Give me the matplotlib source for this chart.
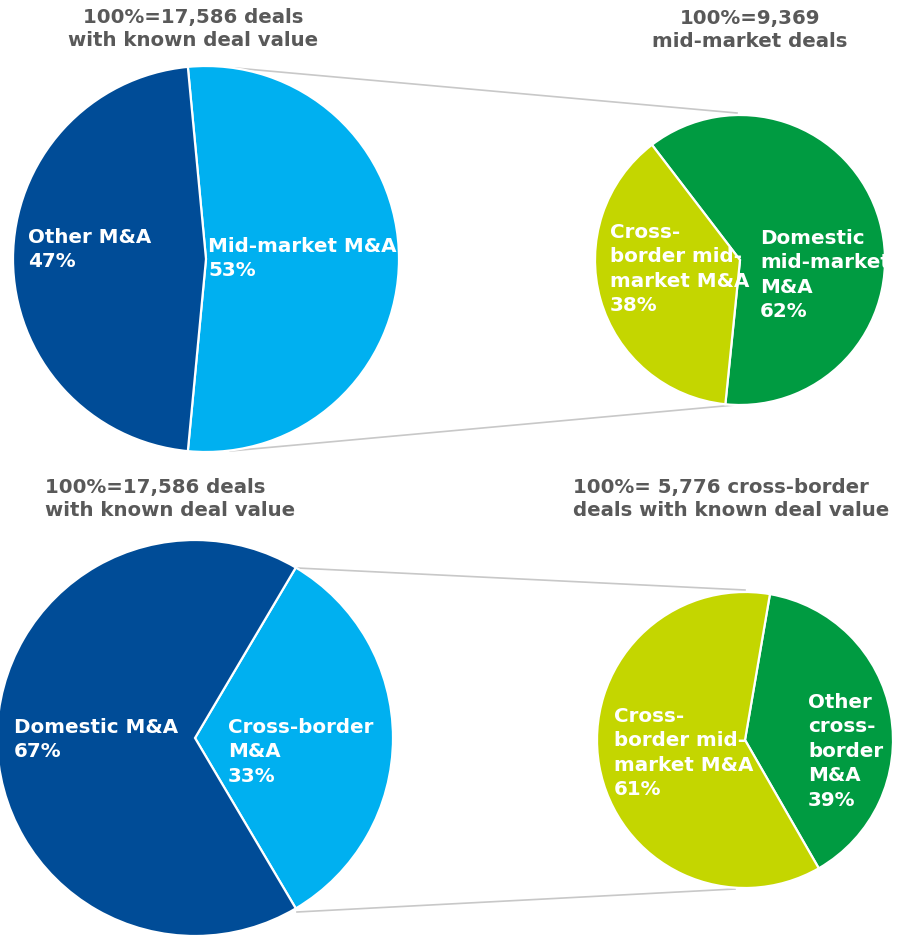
import matplotlib
matplotlib.use("Agg")
import matplotlib.pyplot as plt

# data
top_left_names = ["Mid-market M&A", "Other M&A"]
top_left_values = [53, 47]
top_right_names = ["Domestic\nmid-market\nM&A", "Cross-\nborder mid-\nmarket M&A"]
top_right_values = [62, 38]
bottom_left_names = ["Cross-border\nM&A", "Domestic M&A"]
bottom_left_values = [33, 67]
bottom_right_names = ["Other\ncross-\nborder\nM&A", "Cross-\nborder mid-\nmarket M&A"]
bottom_right_values = [39, 61]

titles = [
    "100%=17,586 deals\nwith known deal value",
    "100%=9,369\nmid-market deals",
    "100%=17,586 deals\nwith known deal value",
    "100%= 5,776 cross-border\ndeals with known deal value",
]

DARK_BLUE = "#004C97"
LIGHT_BLUE = "#00B0F0"
DARK_GREEN = "#009B41"
LIME = "#C4D600"
GREY_TEXT = "#595959"
LINE = "#C8C8C8"

W, H = 898, 940
fig = plt.figure(figsize=(W / 100, H / 100), dpi=100)
ax = fig.add_axes([0, 0, 1, 1])


def py(y):
    # pixel row (from top) -> data y (from bottom)
    return H - y


def draw_pie(values, colors, cx, cy, r, start):
    ax.pie(values, colors=colors, center=(cx, py(cy)), radius=r,
           startangle=start, counterclock=False,
           wedgeprops=dict(edgecolor="white", linewidth=1.6))


def label(x, y, name, value):
    ax.text(x, py(y), f"{name}\n{value}%", color="white", fontsize=14.3,
            fontweight="bold", ha="left", va="top", linespacing=1.36)


# connector lines (drawn first, under the pies)
ax.plot([235, 737], [py(68), py(113)], color=LINE, lw=1.2, zorder=0)
ax.plot([230, 735], [py(451), py(405)], color=LINE, lw=1.2, zorder=0)
ax.plot([297, 745], [py(568), py(590)], color=LINE, lw=1.2, zorder=0)
ax.plot([297, 735], [py(912), py(889)], color=LINE, lw=1.2, zorder=0)

draw_pie(top_left_values, [LIGHT_BLUE, DARK_BLUE], 206, 259, 193, 95.4)
draw_pie(top_right_values, [DARK_GREEN, LIME], 740, 260, 145, 127.4)
draw_pie(bottom_left_values, [LIGHT_BLUE, DARK_BLUE], 195, 738, 198, 59.4)
draw_pie(bottom_right_values, [DARK_GREEN, LIME], 745, 740, 148, 80.3)

label(208, 237, top_left_names[0], top_left_values[0])
label(28, 228, top_left_names[1], top_left_values[1])
label(760, 229, top_right_names[0], top_right_values[0])
label(610, 223, top_right_names[1], top_right_values[1])
label(228, 718, bottom_left_names[0], bottom_left_values[0])
label(14, 718, bottom_left_names[1], bottom_left_values[1])
label(808, 693, bottom_right_names[0], bottom_right_values[0])
label(614, 707, bottom_right_names[1], bottom_right_values[1])

title_kw = dict(color=GREY_TEXT, fontsize=14.2, fontweight="bold", va="top",
                linespacing=1.24)
ax.text(193, py(8), titles[0], ha="center", multialignment="center", **title_kw)
ax.text(750, py(9), titles[1], ha="center", multialignment="center", **title_kw)
ax.text(45, py(478), titles[2], ha="left", **title_kw)
ax.text(573, py(478), titles[3], ha="left", **title_kw)

ax.set_xlim(0, W)
ax.set_ylim(0, H)
ax.set_aspect("equal")
ax.axis("off")

fig.savefig("out.png", dpi=100)
